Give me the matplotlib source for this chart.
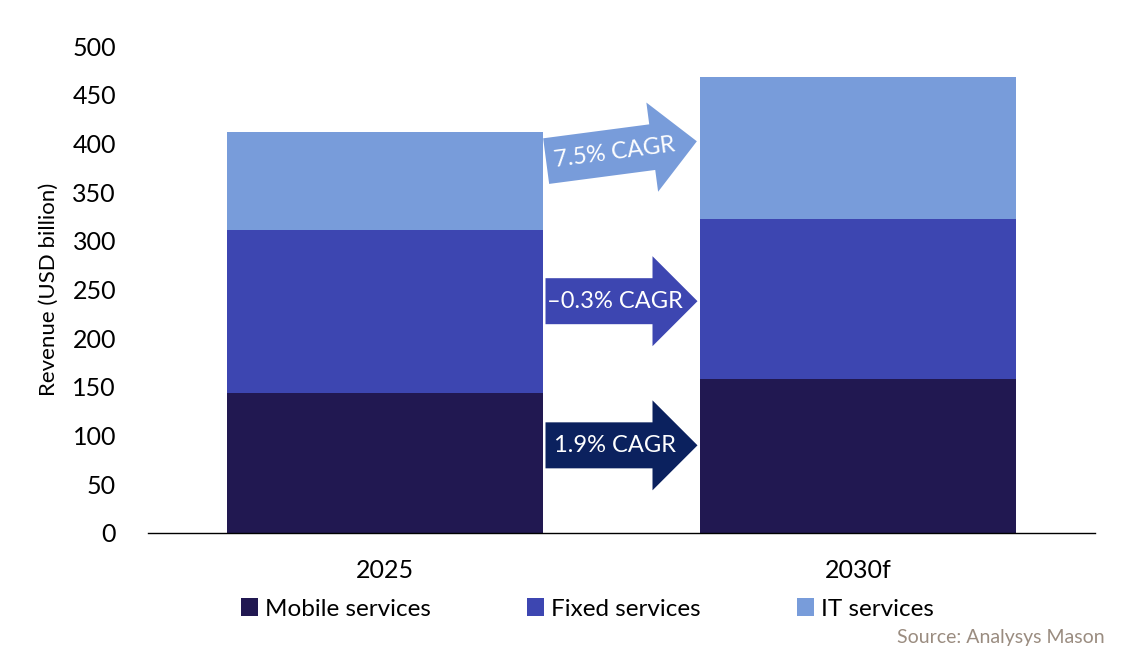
import numpy as np
import matplotlib
matplotlib.use('Agg')
import matplotlib.pyplot as plt
import matplotlib.transforms as mtrans
from matplotlib.patches import Polygon

plt.rcParams['font.family'] = ['Lato', 'DejaVu Sans']

# Data (USD billion)
years = ['2025', '2030f']
mobile = [144, 158]
fixed = [167, 164]
it = [101, 146]
series_names = ['Mobile services', 'Fixed services', 'IT services']
colors = ['#211851', '#3d46b1', '#789cda']

# CAGR arrows: label, y position (data), colour, rotation
arrow_labels = ['1.9% CAGR', '\u20130.3% CAGR', '7.5% CAGR']
arrow_y = [90, 238, 392]
arrow_colors = ['#0b215e', '#3d46b1', '#789cda']
arrow_angle = [0, 0, 7.5]

fig = plt.figure(figsize=(11.25, 6.53), dpi=100)
fig.patch.set_facecolor('white')
ax = fig.add_axes([148/1125, 1-533/653, 947/1125, 487/653])

x = np.arange(len(years))
w = 0.667
ax.bar(x, mobile, w, color=colors[0], label=series_names[0])
ax.bar(x, fixed, w, bottom=mobile, color=colors[1], label=series_names[1])
ax.bar(x, it, w, bottom=np.array(mobile)+np.array(fixed), color=colors[2], label=series_names[2])

ax.set_xlim(-0.5, 1.5)
ax.set_ylim(0, 500)
ax.set_yticks(range(0, 501, 50))
ax.set_xticks(x)
ax.set_xticklabels(years)
for s in ['top', 'right', 'left']:
    ax.spines[s].set_visible(False)
ax.spines['bottom'].set_color('#000000')
ax.spines['bottom'].set_linewidth(1)
ax.tick_params(axis='y', length=0, labelsize=18, pad=23)
ax.tick_params(axis='x', length=0, labelsize=18, pad=19)
ax.set_ylabel('Revenue (USD billion)', fontsize=16, labelpad=10)

# arrows drawn in pixel units, centred between the bars
L, bh, hh, hl = 152, 23, 45, 45
shape = np.array([[-L/2, -bh], [L/2-hl, -bh], [L/2-hl, -hh], [L/2, 0],
                  [L/2-hl, hh], [L/2-hl, bh], [-L/2, bh]])
for lab, yv, c, ang in zip(arrow_labels, arrow_y, arrow_colors, arrow_angle):
    tr = mtrans.Affine2D().rotate_deg(ang) + mtrans.ScaledTranslation(0.5, yv, ax.transData)
    ax.add_patch(Polygon(shape, closed=True, facecolor=c, edgecolor='none', transform=tr, clip_on=False))
    t = np.deg2rad(ang)
    dx = -7
    ax.text(0.5, yv, lab, color='white', fontsize=17, ha='center', va='center', rotation=ang,
            rotation_mode='anchor',
            transform=ax.transData + mtrans.Affine2D().translate(dx*np.cos(t), dx*np.sin(t)))

fig.legend(loc='center', bbox_to_anchor=(0.522, 1-609/653), ncol=3, frameon=False,
           fontsize=17.5, handlelength=0.7, handleheight=0.7, handletextpad=0.3,
           columnspacing=3.95)
fig.text(1105/1125, 1-638/653, 'Source: Analysys Mason', ha='right', va='center',
         fontsize=14, color='#9a8c80')

plt.savefig('out.png', dpi=100)
